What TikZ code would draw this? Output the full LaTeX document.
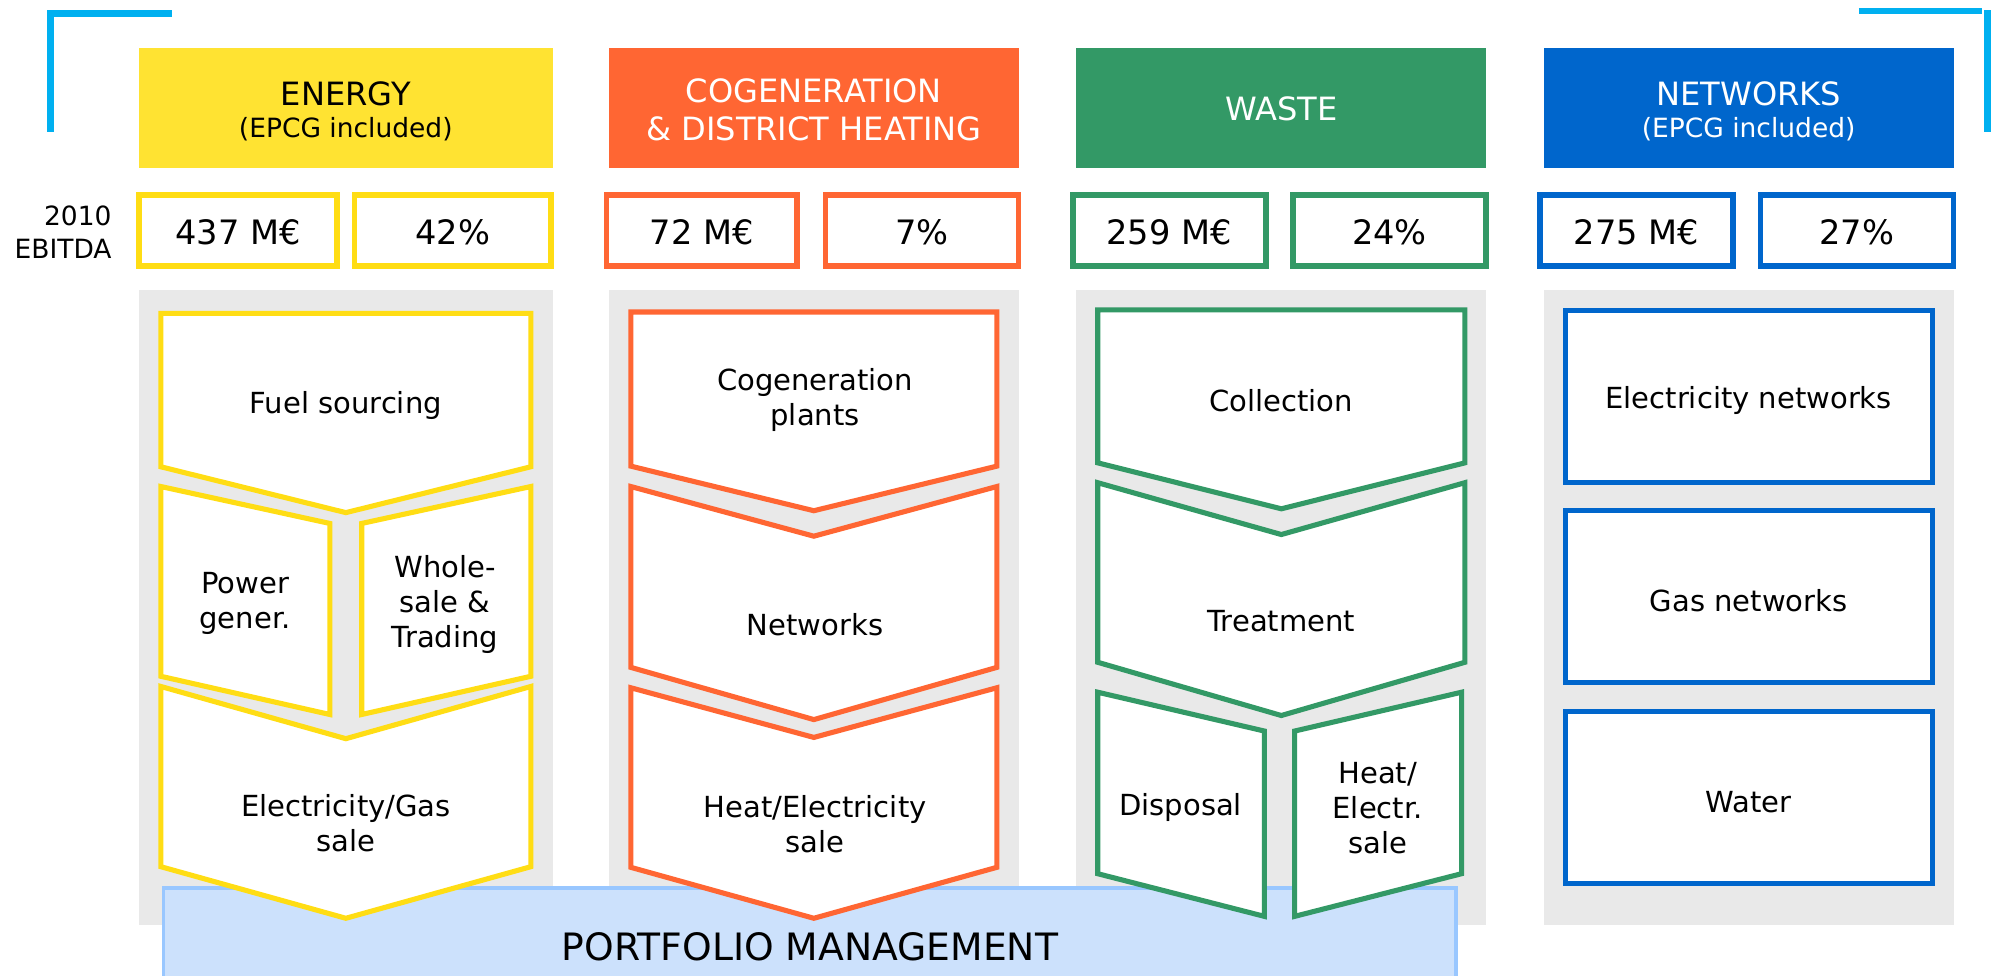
\documentclass[tikz,border=0pt]{standalone}
\usepackage{fontspec}
\setmainfont{DejaVu Sans}
\definecolor{cYf}{RGB}{255,227,50}
\definecolor{cY}{RGB}{255,221,20}
\definecolor{cO}{RGB}{255,102,51}
\definecolor{cG}{RGB}{51,153,102}
\definecolor{cB}{RGB}{0,102,204}
\definecolor{cCy}{RGB}{0,176,240}
\definecolor{pF}{RGB}{204,225,252}
\definecolor{pB}{RGB}{153,199,255}
\definecolor{panel}{RGB}{233,233,233}
\newcommand{\mychev}[7]{%
  \draw[stage,draw=#1] (#2,#4) -- ({(#2+#3)/2},#5) -- (#3,#4) -- (#3,#6) -- ({(#2+#3)/2},#7) -- (#2,#6) -- cycle;}
\begin{document}
\begin{tikzpicture}[x=0.5pt,y=-0.5pt,
  hdr/.style={font=\fontsize{12.6}{15}\selectfont, align=center, inner sep=0pt},
  sub/.style={font=\fontsize{10.4}{12.5}\selectfont, inner sep=0pt},
  num/.style={font=\fontsize{13.2}{15}\selectfont, inner sep=0pt},
  body/.style={font=\fontsize{11.4}{13.75}\selectfont, align=center, inner sep=0pt, yshift=-1pt},
  stage/.style={line width=2pt, fill=white, line join=miter},
  ebox/.style={line width=2.25pt, fill=white},
  netbox/.style={line width=2pt, fill=white, draw=cB},
  corner/.style={draw=cCy, line width=2.65pt}]
\useasboundingbox (0,0) rectangle (1568,766);
\clip (0,0) rectangle (1568,766);
\fill[white] (0,0) rectangle (1568,766);

% corner brackets
\draw[corner, line join=miter] (135,10.5) -- (39.7,10.5) -- (39.7,104);
\draw[draw=cCy, line width=2.3pt] (1459.6,8.5) -- (1556,8.5);
\draw[draw=cCy, line width=2.6pt] (1560.5,7.9) -- (1560.5,104);

% grey panels
\fill[panel] (109,228) rectangle (434,726);
\fill[panel] (478,228) rectangle (800,726);
\fill[panel] (845,228) rectangle (1167,726);
\fill[panel] (1212,228) rectangle (1534,726);

% headers
\fill[cYf] (109,38) rectangle (434,132);
\fill[cO] (478,38) rectangle (800,132);
\fill[cG] (845,38) rectangle (1167,132);
\fill[cB] (1212,38) rectangle (1534,132);
\node[hdr] (hE) at (271.5,73.3) {ENERGY};
\node[sub] (hEs) at (271.5,101.7) {(EPCG included)};
\node[hdr, text=white] (hC) at (639,86.5) {COGENERATION\\\& DISTRICT HEATING};
\node[hdr, text=white] (hW) at (1006,85.7) {WASTE};
\node[hdr, text=white] (hN) at (1373,73.3) {NETWORKS};
\node[sub, text=white] (hNs) at (1373,101.7) {(EPCG included)};

% EBITDA label
\node[font=\fontsize{10.4}{13}\selectfont, align=right, anchor=east, inner sep=0pt] (lab) at (88,182) {2010\\EBITDA};

% EBITDA boxes
\draw[ebox, draw=cY] (109.25,153.25) rectangle (264.75,208.75);
\draw[ebox, draw=cY] (278.25,153.25) rectangle (432.75,208.75);
\draw[ebox, draw=cO] (476.25,153.25) rectangle (625.75,208.75);
\draw[ebox, draw=cO] (648.25,153.25) rectangle (799.75,208.75);
\draw[ebox, draw=cG] (842.25,153.25) rectangle (993.75,208.75);
\draw[ebox, draw=cG] (1015.25,153.25) rectangle (1166.75,208.75);
\draw[ebox, draw=cB] (1209.25,153.25) rectangle (1360.75,208.75);
\draw[ebox, draw=cB] (1382.25,153.25) rectangle (1533.75,208.75);
\node[num] (eE1) at (187,182) {437 M€};
\node[num] (eE2) at (355.5,182) {42\%};
\node[num] (eC1) at (551,182) {72 M€};
\node[num] (eC2) at (724,182) {7\%};
\node[num] (eW1) at (918,182) {259 M€};
\node[num] (eW2) at (1091,182) {24\%};
\node[num] (eN1) at (1285,182) {275 M€};
\node[num] (eN2) at (1458,182) {27\%};

% portfolio management box
\draw[fill=pF, draw=pB, line width=1.3pt] (128.3,697.3) rectangle (1143.3,800);

% Energy column
\mychev{cY}{126.3}{416.8}{246}{246}{366.5}{402.5}
\draw[stage,draw=cY] (126.3,382) -- (259,411) -- (259,561) -- (126.3,531) -- cycle;
\draw[stage,draw=cY] (284,411) -- (416.8,382) -- (416.8,531) -- (284,561) -- cycle;
\mychev{cY}{126.3}{416.8}{539}{580}{680.5}{721}
\node[body] (fuel) at (271.5,316.7) {Fuel sourcing};
\node[body] (pow) at (192.4,472) {Power\\gener.};
\node[body] (whole) at (349.4,472.4) {Whole-\\sale \&\\Trading};
\node[body] (egs) at (271.7,644.5) {Electricity/Gas\\sale};

% Cogeneration column
\mychev{cO}{495.3}{782.7}{245}{245}{366}{401}
\mychev{cO}{495.3}{782.7}{382}{421}{524}{565}
\mychev{cO}{495.3}{782.7}{540}{579}{681}{721}
\node[body] (cogp) at (640,312.3) {Cogeneration\\plants};
\node[body] (cnet) at (640,488.2) {Networks};
\node[body] (hes) at (640,645.2) {Heat/Electricity\\sale};

% Waste column
\mychev{cG}{861.9}{1150.2}{243.3}{243.3}{363.4}{399.5}
\mychev{cG}{861.9}{1150.2}{379}{419.7}{520}{561.8}
\draw[stage,draw=cG] (861.9,543.5) -- (992.8,574) -- (992.8,719.5) -- (861.9,686) -- cycle;
\draw[stage,draw=cG] (1016.5,574) -- (1147.6,543.5) -- (1147.6,686) -- (1016.5,719.5) -- cycle;
\node[body] (coll) at (1006,312.8) {Collection};
\node[body] (treat) at (1006,485.5) {Treatment};
\node[body] (disp) at (927,632) {Disposal};
\node[body] (hels) at (1081.7,632.5) {Heat/\\Electr.\\sale};

% Networks column
\draw[netbox] (1229.3,243.8) rectangle (1517,378.7);
\draw[netbox] (1229.3,401) rectangle (1517,535.9);
\draw[netbox] (1229.3,558.9) rectangle (1517,693.8);
\node[body] (elnet) at (1373,312.5) {Electricity networks};
\node[body] (gasnet) at (1373,469.6) {Gas networks};
\node[body] (water) at (1373,627.5) {Water};

% portfolio text
\node[font=\fontsize{14.8}{17}\selectfont, inner sep=0pt] (pm) at (636,743.3) {PORTFOLIO MANAGEMENT};
\end{tikzpicture}
\end{document}
